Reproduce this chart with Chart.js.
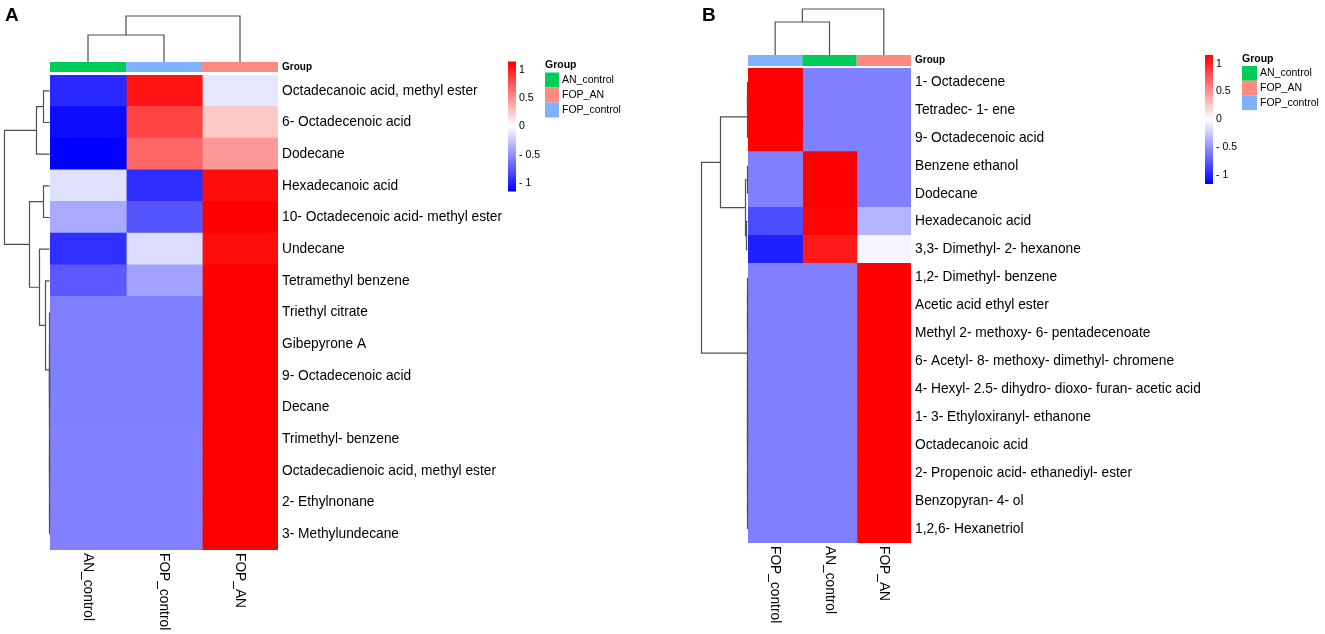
<!DOCTYPE html>
<html>
<head>
<meta charset="utf-8">
<script src="https://cdn.jsdelivr.net/npm/chart.js@4.4.1/dist/chart.umd.min.js"></script>
<style>
  html, body { margin: 0; padding: 0; background: #fff; }
  #wrap { display: flex; width: 1325px; height: 634px; }
  canvas { display: block; }
</style>
</head>
<body>
<div id="wrap">
  <canvas id="heatA" width="660" height="634"></canvas>
  <canvas id="heatB" width="665" height="634"></canvas>
</div>
<script>
const FONT = 'Arial, "Liberation Sans", Helvetica, sans-serif';

const groupNames = ['AN_control', 'FOP_AN', 'FOP_control'];
const groupColors = ['#00cc5a', '#ff8a80', '#80b1ff'];
const scaleTicks = [1, 0.5, 0, -0.5, -1];
const scaleMax = 1.155;

// panel A
const colsA = ['AN_control', 'FOP_control', 'FOP_AN'];
const rowsA = ['Octadecanoic acid, methyl ester', '6- Octadecenoic acid', 'Dodecane', 'Hexadecanoic acid',
  '10- Octadecenoic acid- methyl ester', 'Undecane', 'Tetramethyl benzene', 'Triethyl citrate', 'Gibepyrone A',
  '9- Octadecenoic acid', 'Decane', 'Trimethyl- benzene', 'Octadecadienoic acid, methyl ester', '2- Ethylnonane',
  '3- Methylundecane'];
const anControlA  = [-0.97, -1.10, -1.15, -0.14, -0.39, -0.94, -0.75, -0.58, -0.58, -0.58, -0.58, -0.57, -0.57, -0.57, -0.57];
const fopControlA = [1.07, 0.85, 0.69, -0.95, -0.77, -0.16, -0.42, -0.58, -0.58, -0.58, -0.58, -0.57, -0.57, -0.57, -0.57];
const fopAnA      = [-0.11, 0.25, 0.46, 1.09, 1.155, 1.10, 1.155, 1.155, 1.155, 1.155, 1.155, 1.155, 1.155, 1.155, 1.155];
// [height, left, right], leaves are row / column indexes
const rowTreeA = [4.5,
  [1.3, [0.6, 0, 1], 2],
  [2.0, [0.6, 3, 4], [1.0, 5, [0.4, 6,
    [0, 7, [0, [0, 8, [0, 9, 10]], [0, [0, 11, 12], [0, 13, 14]]]]]]]];
const colTreeA = [4.6, [2.7, 0, 1], 2];

// panel B
const colsB = ['FOP_control', 'AN_control', 'FOP_AN'];
const rowsB = ['1- Octadecene', 'Tetradec- 1- ene', '9- Octadecenoic acid', 'Benzene ethanol', 'Dodecane',
  'Hexadecanoic acid', '3,3- Dimethyl- 2- hexanone', '1,2- Dimethyl- benzene', 'Acetic acid ethyl ester',
  'Methyl 2- methoxy- 6- pentadecenoate', '6- Acetyl- 8- methoxy- dimethyl- chromene',
  '4- Hexyl- 2.5- dihydro- dioxo- furan- acetic acid', '1- 3- Ethyloxiranyl- ethanone', 'Octadecanoic acid',
  '2- Propenoic acid- ethanediyl- ester', 'Benzopyran- 4- ol', '1,2,6- Hexanetriol'];
const fopControlB = [1.155, 1.155, 1.155, -0.577, -0.577, -0.81, -1.01, -0.577, -0.577, -0.577, -0.577, -0.577, -0.577, -0.577, -0.577, -0.577, -0.577];
const anControlB  = [-0.577, -0.577, -0.577, 1.155, 1.155, 1.14, 1.04, -0.577, -0.577, -0.577, -0.577, -0.577, -0.577, -0.577, -0.577, -0.577, -0.577];
const fopAnB      = [-0.577, -0.577, -0.577, -0.577, -0.577, -0.34, -0.04, 1.155, 1.155, 1.155, 1.155, 1.155, 1.155, 1.155, 1.155, 1.155, 1.155];
const rowTreeB = [4.6,
  [2.7, [0, [0, 0, 1], 2], [0.2, [0, 3, 4], [0.1, 5, 6]]],
  [0, [0, [0, 7, 8], 9], [0, 10, [0, 11, [0, [0, 12, 13], [0, 14, [0, 15, 16]]]]]]];
const colTreeB = [4.6, [3.3, 0, 1], 2];

const dendroUnit = 10;

function heatColor(v) {
  const t = Math.max(-1, Math.min(1, v / scaleMax));
  if (t >= 0) {
    const c = Math.round(255 * (1 - t));
    return `rgb(255,${c},${c})`;
  }
  const c = Math.round(255 * (1 + t));
  return `rgb(${c},${c},255)`;
}

function drawTree(ctx, node, leafPos, toXY) {
  if (typeof node === 'number') return [leafPos(node), 0];
  const [h, l, r] = node;
  const a = drawTree(ctx, l, leafPos, toXY);
  const b = drawTree(ctx, r, leafPos, toXY);
  ctx.beginPath();
  let p = toXY(a[0], a[1]); ctx.moveTo(p[0], p[1]);
  p = toXY(a[0], h); ctx.lineTo(p[0], p[1]);
  p = toXY(b[0], h); ctx.lineTo(p[0], p[1]);
  p = toXY(b[0], b[1]); ctx.lineTo(p[0], p[1]);
  ctx.stroke();
  return [(a[0] + b[0]) / 2, h];
}

function makeDecor(cfg) {
  return {
    id: 'decor' + cfg.letter,
    afterDatasetsDraw(chart) {
      const ctx = chart.ctx;
      const area = chart.chartArea;
      const xs = chart.scales.x;
      const ys = chart.scales.y;
      ctx.save();

      // panel letter
      ctx.fillStyle = '#000';
      ctx.font = `bold 19px ${FONT}`;
      ctx.textBaseline = 'alphabetic';
      ctx.textAlign = 'left';
      ctx.fillText(cfg.letter, cfg.letterX, 21);

      // group annotation bar
      const barTop = area.top - cfg.barGap - cfg.barH;
      cfg.cols.forEach((name, c) => {
        const x0 = xs.getPixelForValue(c), x1 = xs.getPixelForValue(c + 1);
        ctx.fillStyle = groupColors[groupNames.indexOf(name)];
        ctx.fillRect(x0, barTop, x1 - x0, cfg.barH);
      });
      ctx.fillStyle = '#000';
      ctx.font = `bold 10px ${FONT}`;
      ctx.textBaseline = 'middle';
      ctx.fillText('Group', area.right + 4, barTop + cfg.barH / 2);

      // dendrograms
      ctx.strokeStyle = '#4f4f4f';
      ctx.lineWidth = 1.2;
      drawTree(ctx, cfg.colTree, c => xs.getPixelForValue(c + 0.5), (p, h) => [p, barTop - h * dendroUnit]);
      drawTree(ctx, cfg.rowTree, i => ys.getPixelForValue(i), (p, h) => [area.left - 0.5 - h * dendroUnit, p]);

      // column labels, rotated clockwise
      ctx.fillStyle = '#000';
      ctx.font = `13.75px ${FONT}`;
      ctx.textAlign = 'left';
      ctx.textBaseline = 'middle';
      cfg.cols.forEach((name, c) => {
        ctx.save();
        ctx.translate(xs.getPixelForValue(c + 0.5), area.bottom + 3);
        ctx.rotate(Math.PI / 2);
        ctx.fillText(name, 0, 0);
        ctx.restore();
      });

      // colour bar
      const cb = cfg.colorbar;
      const grad = ctx.createLinearGradient(0, cb.y, 0, cb.y + cb.h);
      grad.addColorStop(0, heatColor(scaleMax));
      grad.addColorStop(0.5, heatColor(0));
      grad.addColorStop(1, heatColor(-scaleMax));
      ctx.fillStyle = grad;
      ctx.fillRect(cb.x, cb.y, cb.w, cb.h);
      ctx.fillStyle = '#000';
      ctx.font = `10.5px ${FONT}`;
      scaleTicks.forEach(v => {
        const y = cb.y + (scaleMax - v) / (2 * scaleMax) * cb.h;
        const txt = v < 0 ? '- ' + Math.abs(v) : String(v);
        ctx.fillText(txt, cb.x + cb.w + 3, y);
      });

      // group legend
      const lg = cfg.legend;
      ctx.font = `bold 10.5px ${FONT}`;
      ctx.fillText('Group', lg.x, lg.titleY);
      ctx.font = `10.5px ${FONT}`;
      groupNames.forEach((name, i) => {
        const y = lg.y + i * lg.h;
        ctx.fillStyle = groupColors[i];
        ctx.fillRect(lg.x, y, lg.w, lg.h);
        ctx.fillStyle = '#000';
        ctx.fillText(name, lg.x + lg.w + 3, y + lg.h / 2);
      });

      ctx.restore();
    }
  };
}

function makeHeatmap(id, cols, rows, series, axisWidth, padding, decor) {
  const datasets = cols.map((name, c) => ({
    label: name,
    data: rows.map(() => [c, c + 1]),
    backgroundColor: series[c].map(heatColor),
    grouped: false,
    barPercentage: 1,
    categoryPercentage: 1,
    borderWidth: 0,
    inflateAmount: 0.6
  }));
  return new Chart(document.getElementById(id), {
    type: 'bar',
    data: { labels: rows, datasets: datasets },
    options: {
      indexAxis: 'y',
      responsive: false,
      animation: false,
      layout: { padding: padding },
      plugins: { legend: { display: false }, tooltip: { enabled: false } },
      scales: {
        x: { type: 'linear', min: 0, max: cols.length, display: false },
        y: {
          type: 'category',
          position: 'right',
          grid: { display: false, drawTicks: false },
          border: { display: false },
          ticks: { color: '#000', autoSkip: false, padding: 4, font: { family: FONT, size: 13.75 } },
          afterFit: scale => { scale.width = axisWidth; }
        }
      }
    },
    plugins: [makeDecor(decor)]
  });
}

makeHeatmap('heatA', colsA, rowsA, [anControlA, fopControlA, fopAnA], 382,
  { left: 50, top: 75, bottom: 84, right: 0 },
  {
    letter: 'A', letterX: 5, cols: colsA, rowTree: rowTreeA, colTree: colTreeA,
    barGap: 3, barH: 10,
    colorbar: { x: 508, y: 61.5, w: 8, h: 130 },
    legend: { x: 545, titleY: 65, y: 72.5, w: 14, h: 15 }
  });

makeHeatmap('heatB', colsB, rowsB, [fopControlB, anControlB, fopAnB], 414,
  { left: 88, top: 68, bottom: 91, right: 0 },
  {
    letter: 'B', letterX: 42, cols: colsB, rowTree: rowTreeB, colTree: colTreeB,
    barGap: 2, barH: 11,
    colorbar: { x: 545, y: 55, w: 8, h: 129 },
    legend: { x: 582, titleY: 59, y: 66, w: 15, h: 14.7 }
  });
</script>
</body>
</html>
